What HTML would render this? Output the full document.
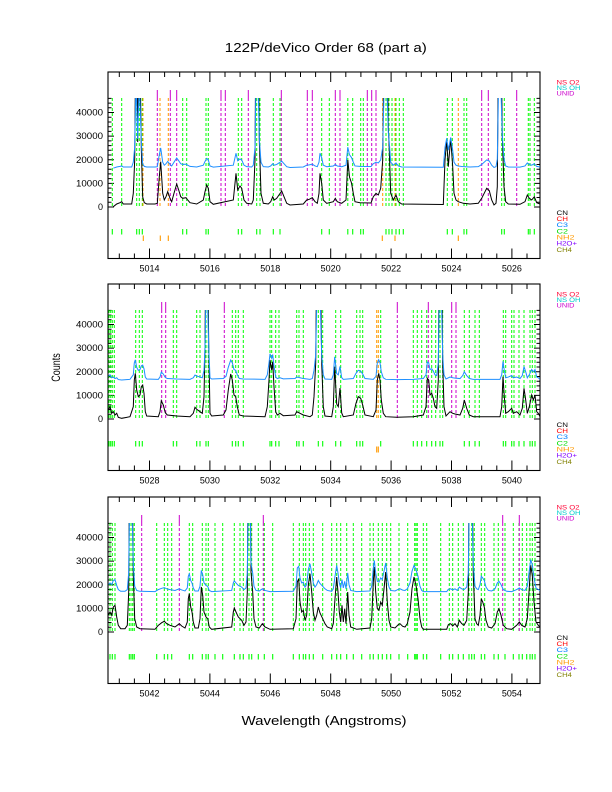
<!DOCTYPE html>
<html><head><meta charset="utf-8"><style>html,body{margin:0;padding:0;background:#fff}svg{display:block}text{font-family:"Liberation Sans",sans-serif}</style></head><body>
<svg xmlns="http://www.w3.org/2000/svg" xmlns:xlink="http://www.w3.org/1999/xlink" width="612" height="792" viewBox="0 0 612 792">
<rect width="612" height="792" fill="#fff"/>
<defs>
<clipPath id="clip" clipPathUnits="userSpaceOnUse"><rect x="108.5" y="26" width="431.5" height="160"/></clipPath>
<g id="frame">
<rect x="108" y="0" width="432" height="186.5" fill="none" stroke="#000" stroke-width="1.1"/>
<path fill="none" stroke="#000" stroke-width="1" d="M108 135h6M108 130.28h3.5M108 125.55h3.5M108 120.83h3.5M108 116.1h3.5M108 111.38h6M108 106.66h3.5M108 101.93h3.5M108 97.21h3.5M108 92.48h3.5M108 87.76h6M108 83.04h3.5M108 78.31h3.5M108 73.59h3.5M108 68.86h3.5M108 64.14h6M108 59.42h3.5M108 54.69h3.5M108 49.97h3.5M108 45.24h3.5M108 40.52h6M108 35.8h3.5M108 31.07h3.5M108 26.35h3.5
M540 135h-6M540 130.28h-3.5M540 125.55h-3.5M540 120.83h-3.5M540 116.1h-3.5M540 111.38h-6M540 106.66h-3.5M540 101.93h-3.5M540 97.21h-3.5M540 92.48h-3.5M540 87.76h-6M540 83.04h-3.5M540 78.31h-3.5M540 73.59h-3.5M540 68.86h-3.5M540 64.14h-6M540 59.42h-3.5M540 54.69h-3.5M540 49.97h-3.5M540 45.24h-3.5M540 40.52h-6M540 35.8h-3.5M540 31.07h-3.5M540 26.35h-3.5
M149.5 0v10M209.9 0v10M270.3 0v10M330.7 0v10M391.1 0v10M451.5 0v10M511.9 0v10
M119.3 0v5M134.4 0v5M164.6 0v5M179.7 0v5M194.8 0v5M225 0v5M240.1 0v5M255.2 0v5M285.4 0v5M300.5 0v5M315.6 0v5M345.8 0v5M360.9 0v5M376 0v5M406.2 0v5M421.3 0v5M436.4 0v5M466.6 0v5M481.7 0v5M496.8 0v5M527 0v5
M149.5 186.5v-10M209.9 186.5v-10M270.3 186.5v-10M330.7 186.5v-10M391.1 186.5v-10M451.5 186.5v-10M511.9 186.5v-10
M119.3 186.5v-5M134.4 186.5v-5M164.6 186.5v-5M179.7 186.5v-5M194.8 186.5v-5M225 186.5v-5M240.1 186.5v-5M255.2 186.5v-5M285.4 186.5v-5M300.5 186.5v-5M315.6 186.5v-5M345.8 186.5v-5M360.9 186.5v-5M376 186.5v-5M406.2 186.5v-5M421.3 186.5v-5M436.4 186.5v-5M466.6 186.5v-5M481.7 186.5v-5M496.8 186.5v-5M527 186.5v-5"/>
<g font-size="9" text-anchor="end" fill="#000">
<text x="103" y="138">0</text>
<text x="103" y="114.4" textLength="27" lengthAdjust="spacingAndGlyphs">10000</text>
<text x="103" y="90.8" textLength="27" lengthAdjust="spacingAndGlyphs">20000</text>
<text x="103" y="67.1" textLength="27" lengthAdjust="spacingAndGlyphs">30000</text>
<text x="103" y="43.5" textLength="27" lengthAdjust="spacingAndGlyphs">40000</text>
</g>
<g font-size="6.5">
<text x="556.5" y="12.5" fill="#ff0033" textLength="23" lengthAdjust="spacingAndGlyphs">NS O2</text>
<text x="556.5" y="18" fill="#00cccc" textLength="24" lengthAdjust="spacingAndGlyphs">NS OH</text>
<text x="556.5" y="23.3" fill="#cc00cc" textLength="18" lengthAdjust="spacingAndGlyphs">UNID</text>
<text x="556.5" y="142.8" fill="#000" textLength="11.5" lengthAdjust="spacingAndGlyphs">CN</text>
<text x="556.5" y="149" fill="#ff0000" textLength="11.5" lengthAdjust="spacingAndGlyphs">CH</text>
<text x="556.5" y="155.1" fill="#0080ff" textLength="11.5" lengthAdjust="spacingAndGlyphs">C3</text>
<text x="556.5" y="161.3" fill="#00dd00" textLength="11.5" lengthAdjust="spacingAndGlyphs">C2</text>
<text x="556.5" y="167.5" fill="#ff9900" textLength="18" lengthAdjust="spacingAndGlyphs">NH2</text>
<text x="556.5" y="173.6" fill="#8000ff" textLength="20.5" lengthAdjust="spacingAndGlyphs">H2O+</text>
<text x="556.5" y="179.8" fill="#808000" textLength="15.5" lengthAdjust="spacingAndGlyphs">CH4</text>
</g>
</g>
<path id="c1" fill="none" vector-effect="non-scaling-stroke" d="M113.3 134.7L116.7 132L120 130.7L121.7 129.7L123.3 132L131.7 132L133.3 121.3L134.7 88L136 -60L137.7 70L139.3 -60L141.3 76L142.7 125L144.3 130.7L146.7 132L155 132L157.3 131.3L159.3 104.7L160.7 89.7L162.7 121.3L164.3 128L166 124.7L167.7 119.7L170 126.3L171.7 129.7L174 121.3L176.7 112L178.7 118L180.7 124.7L182.7 126.3L186 125.7L187.7 128L190 130.7L196.7 132L203.3 128L205 119.7L206.7 113L208.3 116.3L210 129.7L213.3 132.3L233.3 128L235 111.3L236 101.3L237.7 118L240 114L241.7 116.3L244 128L246.7 131.3L251.7 132L253.3 128L255 88L256 -60L258 -60L259.3 68L261 121.3L263.3 131.3L268.3 132L270.7 129.7L272.7 124.7L274.3 128L276.7 126.3L281.7 119L284 124.7L286.7 131.3L290 133L303.3 132L306.7 128L309.3 127.3L312.3 125.7L315 129.7L317.3 131.3L319 121.3L320 101.3L321.7 111.3L323.3 128L326.7 131.3L333.3 129.7L335.3 126.3L337.3 129.7L341.7 131.3L346 128L347.8 88L349.5 105L351.5 111L353.3 121.3L355 129.7L360 130.7L371 131L373.3 124.7L376 121.3L378.3 123L380.7 116.3L382.7 88L384.3 -60L386.7 -60L388.3 54.7L389.3 78L390.7 121.3L393.3 128L396 123L398.3 129.7L401.7 132L443.3 132.5L445 88L446.7 68L448.3 94.7L450.7 66.3L452.7 94.7L454 121.3L456 128L458.3 129.7L463.3 131.3L470 132L478.3 131.3L481.7 126.3L486.7 116.3L489.3 118.7L491.7 128L494 133L496 131.3L497.3 114.7L498.7 -60L500.7 -60L502.3 64.7L504 114.7L505.7 129.7L508.3 132L520 132.3L525 129.7L527.3 123L529.3 126.3L531.7 128L534.3 124.7L536.7 130.7L540 132"/>
<path id="c2" fill="none" vector-effect="non-scaling-stroke" d="M108.3 126L110 122.7L111.7 129.3L113.3 127.7L115 131L116.7 129.3L118.3 133.3L121.7 134.3L130 132.7L133.3 122.7L134.3 96L135.3 89.3L136.7 106L138.3 112.7L140 111L141.3 102.7L142.7 101L144 109.3L145.3 127.7L146.7 132L158.3 132.7L160 127.7L161.3 116.7L163.3 121L165.3 128.7L167.3 131L176.7 132L190 132.7L193.3 129.3L195 123.3L196.7 125.3L200 127.7L202.3 129.3L204 112.7L205 62.7L206 -60L207.3 -60L208.7 59.3L210 129.3L211.7 132L223.3 131L226 126L228.3 106L230.7 90L232.3 96L234 111L235.7 112.7L237.3 122.7L239.3 131L243.3 132L265 132.7L267.3 122.7L269 96L270 76L271.7 86L272.7 77.7L274 102.7L275.7 127.7L277.3 131L280 129.3L283.3 131.7L295 131L296.7 127.7L300 129.3L303.3 131L310 132.7L312.3 131L314 112.7L315.7 79.3L317 -60L320 -60L321.7 79.3L323.3 122.7L325 132L331.7 132.7L333.3 122.7L334.7 82.7L336.7 120L338.3 122.7L340 104L341.7 129L343.3 132.7L353.3 131L356 119.3L358.3 112.7L360.7 114.3L362.7 121L365 131L373.3 132.7L376 126L377.3 96L378.7 89.3L380 96L381.3 116L383.3 129.3L385.7 132.7L396.7 133.3L413.3 132.7L423.3 131L426 122.7L427.3 94.3L428.7 96L430 111L431.7 109.3L433.3 114.3L435 122.7L436.7 124.3L438.3 96L439.3 -60L441.3 -60L442.7 79.3L444 122.7L446 132L450 127.7L452.7 129.3L455 130L460 131L462.7 124.3L464.3 116L466.7 124.3L469.3 131L473.3 132.7L500 132.7L501.7 122.7L503 92.7L504.3 112.7L505.7 129.3L508.3 127.7L511.7 124.3L513.3 129.3L516.7 127.7L520 131L522.3 124.3L524 104.3L525.7 116L527.3 129.3L529.3 122.7L531.7 111L533.3 116L535 111L536.7 127.7L538.3 129.3L540 132.7"/>
<path id="c3" fill="none" vector-effect="non-scaling-stroke" d="M108.3 118.3L110 115L111.7 118.3L113.3 110L115 108.3L116.7 120L118.3 128.3L120.7 131.7L125 131.7L127.3 128.3L128.7 95L129.7 -60L131.7 -60L133.3 78.3L134.7 121.7L136.7 130L140 131.7L155 132.3L158.3 128.3L161.7 125.7L164.3 124.3L166.7 126.7L170 128.3L175 130L179.3 126.7L181.7 129L185 131L187.3 125L188.3 101.7L189.3 96.7L190.7 110L192 115L193.3 125L195 131L198.3 131L200 121.7L201.3 90L202.7 98.3L204 115L206 120L207.7 121.7L209.3 130L211.7 132.3L231.7 130L233.3 115L234.3 111L236 115L238.3 120L241.7 123.3L244 128.3L246 125L247.3 95L248.3 -60L250 -60L251 75L252.7 95L254 121.7L256 130L259.3 131L262.3 126.7L265 130L270 132.3L293.3 131.7L296 121.7L297.3 85L298.7 81.7L300 105L301.7 115L303.3 113.3L305 123.3L306.7 118.3L308.3 88.3L310 76.7L311.7 95L313.3 115L315 123.3L316.7 118.3L318.3 110L320 116L322.7 121.7L325 126.7L327.3 130L331.7 131.7L333.3 126.7L335 101.7L336.7 80L338 95L339.3 115L340.7 125L342 108.3L343.3 125L344.7 111.7L346 126.7L347.7 95L349 118.3L350.7 130L356.7 132.3L370 131L371.7 121.7L373.3 85L374.3 70L375.7 95L377.3 111.7L379 113.3L380.7 105L382.3 108.3L384 91.7L385.7 75L387.3 105L389 123.3L390.7 130L395 131L398.3 127.7L400 126.7L402.7 129.3L405 130L407.3 126.7L410 115L412 91.7L414 80L416 88.3L418 101.7L420 121.7L421.7 130L423.3 132.3L446.7 132.3L448.3 127.7L450.7 126.7L452.7 129L455 126.7L457.3 130L459.3 123.3L461.7 126.7L464 128.3L466.7 123.3L468.3 95L469.3 -60L471.7 -60L473.3 78.3L475 121.7L476.7 126.7L478.3 128.3L480 118.3L481.3 101.7L482.7 105L484.3 110L486 123.3L488.3 130L491.7 131L495 126.7L497.3 115L499 111.7L501 118.3L503.3 128.3L506.7 131.7L511.7 132.3L516.7 128.3L519.3 125L521.7 128.3L525 130L527.3 121.7L529 95L530.7 68.3L532.3 78.3L534 105L536 125L538.3 128.3L540 130"/>
</defs>

<text x="325.8" y="52" font-size="13" text-anchor="middle" textLength="202" lengthAdjust="spacingAndGlyphs" fill="#000">122P/deVico Order 68 (part a)</text>
<text transform="translate(60,367.5) rotate(-90)" font-size="12" text-anchor="middle" textLength="28.5" lengthAdjust="spacingAndGlyphs" fill="#000">Counts</text>
<text x="324" y="725" font-size="13" text-anchor="middle" textLength="165" lengthAdjust="spacingAndGlyphs" fill="#000">Wavelength (Angstroms)</text>

<!-- Panel 1 -->
<g transform="translate(0,72)">
<use href="#frame" xlink:href="#frame"/>
<path fill="none" stroke="#00ff00" stroke-width="1" stroke-dasharray="3 2" d="M112.3 26V135M121.7 26V135M136.7 26V135M139.3 26V135M142.3 26V135M182.7 26V135M186.7 26V135M206 26V135M208.3 26V135M238.3 26V135M241.7 26V135M256.7 26V135M260 26V135M273.3 26V135M280 26V135M321.7 26V135M329.3 26V135M347.8 26V135M352.7 26V135M360.7 26V135M363.3 26V135M386 26V135M389 26V135M392 26V135M396 26V135M399.3 26V135M403.3 26V135M447.3 26V135M452.3 26V135M464 26V135M466.7 26V135M501.7 26V135M504.3 26V135M528.3 26V135M530 26V135M534.3 26V135"/>
<path fill="none" stroke="#ff9900" stroke-width="1" stroke-dasharray="3 2" d="M143 26V135M160 26V135M168.3 26V135M382.7 26V135M395 26V135M458.3 26V135"/>
<path fill="none" stroke="#cc00cc" stroke-width="1" stroke-dasharray="3 2" d="M157.3 26V135M170.3 26V135M176.7 26V135M221 26V135M225.3 26V135M248.3 26V135M281.3 26V135M307.3 26V135M312.3 26V135M335.3 26V135M340 26V135M367.3 26V135M371.7 26V135M376 26V135M481.7 26V135M488.3 26V135M516.7 26V135"/>
<path fill="none" stroke="#cc00cc" stroke-width="1" d="M157.3 18V26M170.3 18V26M176.7 18V26M221 18V26M225.3 18V26M248.3 18V26M281.3 18V26M307.3 18V26M312.3 18V26M335.3 18V26M340 18V26M367.3 18V26M371.7 18V26M376 18V26M481.7 18V26M488.3 18V26M516.7 18V26"/>
<path fill="none" stroke="#00ff00" stroke-width="1.1" d="M112.3 157V162.5M121.7 157V162.5M136.7 157V162.5M139.3 157V162.5M142.3 157V162.5M182.7 157V162.5M186.7 157V162.5M206 157V162.5M208.3 157V162.5M238.3 157V162.5M241.7 157V162.5M256.7 157V162.5M260 157V162.5M273.3 157V162.5M280 157V162.5M321.7 157V162.5M329.3 157V162.5M347.8 157V162.5M352.7 157V162.5M360.7 157V162.5M363.3 157V162.5M386 157V162.5M389 157V162.5M392 157V162.5M396 157V162.5M399.3 157V162.5M403.3 157V162.5M447.3 157V162.5M452.3 157V162.5M464 157V162.5M466.7 157V162.5M501.7 157V162.5M504.3 157V162.5M528.3 157V162.5M530 157V162.5M534.3 157V162.5"/>
<path fill="none" stroke="#ff9900" stroke-width="1.1" d="M143.3 163.5V169M160.3 163.5V169M168.3 163.5V169M382.3 163.5V169M395 163.5V169M458.3 163.5V169"/>
<g clip-path="url(#clip)">
<use href="#c1" xlink:href="#c1" stroke="#000" stroke-width="1"/>
<use href="#c1" xlink:href="#c1" stroke="#1e8fff" stroke-width="1" transform="matrix(1 0 0 0.45 0 35.6)"/>
</g>
<g font-size="9" text-anchor="middle" fill="#000">
<text x="149.5" y="199.5">5014</text><text x="209.9" y="199.5">5016</text><text x="270.3" y="199.5">5018</text><text x="330.7" y="199.5">5020</text><text x="391.1" y="199.5">5022</text><text x="451.5" y="199.5">5024</text><text x="511.9" y="199.5">5026</text>
</g>
</g>

<!-- Panel 2 -->
<g transform="translate(0,284)">
<use href="#frame" xlink:href="#frame"/>
<path fill="none" stroke="#00ff00" stroke-width="1" stroke-dasharray="3 2" d="M109 26V135M110.7 26V135M112.3 26V135M114.3 26V135M135.7 26V135M139.3 26V135M142.3 26V135M173.3 26V135M176.7 26V135M196.7 26V135M200 26V135M206 26V135M208.3 26V135M232.3 26V135M235.7 26V135M238.3 26V135M243.3 26V135M270 26V135M271.7 26V135M275.7 26V135M279 26V135M296.7 26V135M299 26V135M303.3 26V135M318.3 26V135M322.7 26V135M335.7 26V135M340.7 26V135M356.7 26V135M360 26V135M362.7 26V135M380.7 26V135M413.3 26V135M417.3 26V135M421.7 26V135M426.7 26V135M431.7 26V135M435.7 26V135M440 26V135M442.7 26V135M464.3 26V135M469.3 26V135M475 26V135M479.3 26V135M503.3 26V135M505.7 26V135M511.7 26V135M514 26V135M519 26V135M524 26V135M530 26V135M532.3 26V135M535 26V135"/>
<path fill="none" stroke="#ff9900" stroke-width="1" stroke-dasharray="3 2" d="M376.7 26V135M378.3 26V135"/>
<path fill="none" stroke="#cc00cc" stroke-width="1" stroke-dasharray="3 2" d="M161.7 26V135M165.7 26V135M224.3 26V135M397.3 26V135M428.3 26V135M451.7 26V135M456 26V135"/>
<path fill="none" stroke="#cc00cc" stroke-width="1" d="M161.7 18V26M165.7 18V26M224.3 18V26M397.3 18V26M428.3 18V26M451.7 18V26M456 18V26"/>
<path fill="none" stroke="#00ff00" stroke-width="1.1" d="M109 157V162.5M110.7 157V162.5M112.3 157V162.5M114.3 157V162.5M135.7 157V162.5M139.3 157V162.5M142.3 157V162.5M173.3 157V162.5M176.7 157V162.5M196.7 157V162.5M200 157V162.5M206 157V162.5M208.3 157V162.5M232.3 157V162.5M235.7 157V162.5M238.3 157V162.5M243.3 157V162.5M270 157V162.5M271.7 157V162.5M275.7 157V162.5M279 157V162.5M296.7 157V162.5M299 157V162.5M303.3 157V162.5M318.3 157V162.5M322.7 157V162.5M335.7 157V162.5M340.7 157V162.5M356.7 157V162.5M360 157V162.5M362.7 157V162.5M380.7 157V162.5M413.3 157V162.5M417.3 157V162.5M421.7 157V162.5M426.7 157V162.5M431.7 157V162.5M435.7 157V162.5M440 157V162.5M442.7 157V162.5M464.3 157V162.5M469.3 157V162.5M475 157V162.5M479.3 157V162.5M503.3 157V162.5M505.7 157V162.5M511.7 157V162.5M514 157V162.5M519 157V162.5M524 157V162.5M530 157V162.5M532.3 157V162.5M535 157V162.5"/>
<path fill="none" stroke="#ff9900" stroke-width="1.1" d="M376.7 162.5V168.5M378.3 162.5V168.5"/>
<g clip-path="url(#clip)">
<use href="#c2" xlink:href="#c2" stroke="#000" stroke-width="1"/>
<use href="#c2" xlink:href="#c2" stroke="#1e8fff" stroke-width="1" transform="matrix(1 0 0 0.45 0 35.6)"/>
</g>
<g font-size="9" text-anchor="middle" fill="#000">
<text x="149.5" y="199.5">5028</text><text x="209.9" y="199.5">5030</text><text x="270.3" y="199.5">5032</text><text x="330.7" y="199.5">5034</text><text x="391.1" y="199.5">5036</text><text x="451.5" y="199.5">5038</text><text x="511.9" y="199.5">5040</text>
</g>
</g>

<!-- Panel 3 -->
<g transform="translate(0,497)">
<use href="#frame" xlink:href="#frame"/>
<path fill="none" stroke="#00ff00" stroke-width="1" stroke-dasharray="3 2" d="M110 26V135M112.3 26V135M115 26V135M129.3 26V135M131 26V135M132.7 26V135M134.3 26V135M156.7 26V135M164.3 26V135M167.7 26V135M171.7 26V135M189.3 26V135M192.7 26V135M202.3 26V135M206 26V135M208.3 26V135M215 26V135M222.7 26V135M234.3 26V135M240 26V135M243.3 26V135M249 26V135M251.7 26V135M258.3 26V135M264.3 26V135M272.7 26V135M293.3 26V135M299.3 26V135M303.3 26V135M305.7 26V135M309.3 26V135M313.3 26V135M322.7 26V135M331.7 26V135M336.7 26V135M340.7 26V135M346.7 26V135M353.3 26V135M361.7 26V135M370 26V135M373.3 26V135M378.3 26V135M382.3 26V135M386.7 26V135M390.7 26V135M399 26V135M407.7 26V135M414.7 26V135M416 26V135M417.3 26V135M423.3 26V135M426.7 26V135M440.7 26V135M449.3 26V135M452.7 26V135M458.3 26V135M463.3 26V135M469 26V135M471.7 26V135M474.3 26V135M481.3 26V135M484.7 26V135M494 26V135M498.3 26V135M505 26V135M513.3 26V135M519 26V135M522.3 26V135M526.7 26V135M530 26V135M532.3 26V135M535 26V135"/>
<path fill="none" stroke="#cc00cc" stroke-width="1" stroke-dasharray="3 2" d="M141.7 26V135M179.3 26V135M263.3 26V135M502.7 26V135M519.3 26V135"/>
<path fill="none" stroke="#cc00cc" stroke-width="1" d="M141.7 18V26M179.3 18V26M263.3 18V26M502.7 18V26M519.3 18V26"/>
<path fill="none" stroke="#00ff00" stroke-width="1.1" d="M110 157V162.5M112.3 157V162.5M115 157V162.5M129.3 157V162.5M131 157V162.5M132.7 157V162.5M134.3 157V162.5M156.7 157V162.5M164.3 157V162.5M167.7 157V162.5M171.7 157V162.5M189.3 157V162.5M192.7 157V162.5M202.3 157V162.5M206 157V162.5M208.3 157V162.5M215 157V162.5M222.7 157V162.5M234.3 157V162.5M240 157V162.5M243.3 157V162.5M249 157V162.5M251.7 157V162.5M258.3 157V162.5M264.3 157V162.5M272.7 157V162.5M293.3 157V162.5M299.3 157V162.5M303.3 157V162.5M305.7 157V162.5M309.3 157V162.5M313.3 157V162.5M322.7 157V162.5M331.7 157V162.5M336.7 157V162.5M340.7 157V162.5M346.7 157V162.5M353.3 157V162.5M361.7 157V162.5M370 157V162.5M373.3 157V162.5M378.3 157V162.5M382.3 157V162.5M386.7 157V162.5M390.7 157V162.5M399 157V162.5M407.7 157V162.5M414.7 157V162.5M416 157V162.5M417.3 157V162.5M423.3 157V162.5M426.7 157V162.5M440.7 157V162.5M449.3 157V162.5M452.7 157V162.5M458.3 157V162.5M463.3 157V162.5M469 157V162.5M471.7 157V162.5M474.3 157V162.5M481.3 157V162.5M484.7 157V162.5M494 157V162.5M498.3 157V162.5M505 157V162.5M513.3 157V162.5M519 157V162.5M522.3 157V162.5M526.7 157V162.5M530 157V162.5M532.3 157V162.5M535 157V162.5"/>
<g clip-path="url(#clip)">
<use href="#c3" xlink:href="#c3" stroke="#000" stroke-width="1"/>
<use href="#c3" xlink:href="#c3" stroke="#1e8fff" stroke-width="1" transform="matrix(1 0 0 0.5 0 28.45)"/>
</g>
<g font-size="9" text-anchor="middle" fill="#000">
<text x="149.5" y="199.5">5042</text><text x="209.9" y="199.5">5044</text><text x="270.3" y="199.5">5046</text><text x="330.7" y="199.5">5048</text><text x="391.1" y="199.5">5050</text><text x="451.5" y="199.5">5052</text><text x="511.9" y="199.5">5054</text>
</g>
</g>
</svg>
</body></html>
